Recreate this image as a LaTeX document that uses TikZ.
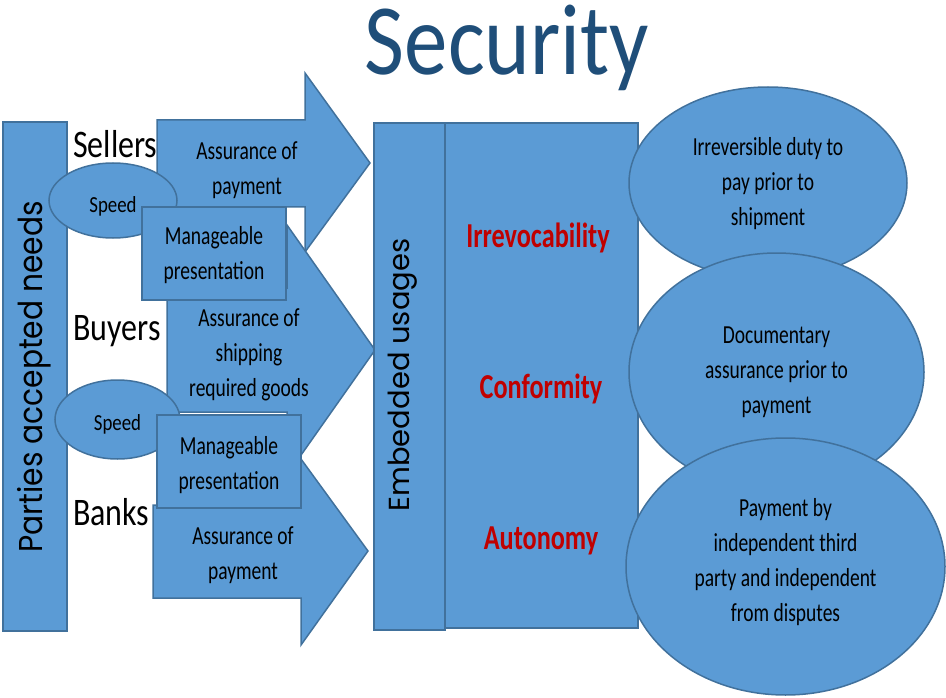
\documentclass[tikz,border=0pt]{standalone}
\usepackage{fontspec}
\setmainfont{Carlito}
\newfontfamily\nA{Carlito}[FakeStretch=0.75]
\newfontfamily\nB{Carlito}[FakeStretch=0.82]
\newfontfamily\nT{Carlito}[FakeStretch=0.86]
\newfontfamily\gth{Poppins}[FakeStretch=0.9]
\newfontfamily\gthw{Poppins}[FakeStretch=1.0]
\usetikzlibrary{shapes.geometric}
\definecolor{fillb}{HTML}{5B9BD5}
\definecolor{lineb}{HTML}{41719C}
\definecolor{titleb}{HTML}{1F4E79}
\definecolor{redt}{HTML}{C00000}
\tikzset{
  shp/.style={fill=fillb,draw=lineb,line width=1.5pt},
  ell/.style={shp,ellipse,inner sep=0pt},
  txt/.style={align=center,inner sep=0pt,font=\nA\fontsize{26}{35}\selectfont},
  lbl/.style={anchor=base west,inner sep=0pt,font=\nB\fontsize{39}{39}\selectfont},
  spd/.style={anchor=base,inner sep=0pt,font=\nB\fontsize{23}{23}\selectfont},
  red/.style={inner sep=0pt,text=redt,font=\nA\bfseries\fontsize{35}{35}\selectfont},
  vert/.style={rotate=90,inner sep=0pt}
}
\begin{document}
\begin{tikzpicture}[x=1pt,y=-1pt]
\useasboundingbox (0,0) rectangle (946,698);
% title
\node[anchor=base,inner sep=0pt,text=titleb,font=\nT\fontsize{101}{101}\selectfont] (title) at (507,75) {Security};
% left column
\node[shp,minimum width=64,minimum height=509,inner sep=0pt] (parties) at (35,376.5) {};
\node[vert,font=\gth\fontsize{33}{33}\selectfont] (partiest) at (34,377) {Parties accepted needs};
% arrows
\draw[shp] (157,120) -- (305,120) -- (305,73) -- (370,163) -- (305,252) -- (305,207) -- (157,207) -- cycle;
\draw[shp] (167,288) -- (287,288) -- (287,225) -- (375,350) -- (287,475) -- (287,412) -- (167,412) -- cycle;
\draw[shp] (153,505) -- (301,505) -- (301,459) -- (368,551) -- (301,645) -- (301,598) -- (153,598) -- cycle;
\node[txt] (a1) at (247,170) {Assurance of\\payment};
\node[txt] (a2) at (249,355) {Assurance of\\shipping\\required goods};
\node[txt] (a3) at (243,555) {Assurance of\\payment};
% speed ellipses
\node[ell,minimum width=128,minimum height=75] (s1) at (113,200.5) {};
\node[spd] (s1t) at (113,212) {Speed};
\node[ell,minimum width=125,minimum height=79] (s2) at (117.5,419.5) {};
\node[spd] (s2t) at (117.5,430) {Speed};
% manageable boxes
\node[shp,minimum width=144,minimum height=93,inner sep=0pt] (m1) at (214,253.5) {};
\node[txt] (m1t) at (214,255) {Manageable\\presentation};
\node[shp,minimum width=144,minimum height=93,inner sep=0pt] (m2) at (229,461.5) {};
\node[txt] (m2t) at (229,465) {Manageable\\presentation};
% party labels
\node[lbl] (sellers) at (73,158) {Sellers};
\node[lbl] (buyers) at (73,340) {Buyers};
\node[lbl] (banks) at (73,525) {Banks};
% embedded usages
\node[shp,minimum width=71,minimum height=507,inner sep=0pt] (emb) at (409.5,376.5) {};
\node[vert,font=\gthw\fontsize{29}{29}\selectfont] (embt) at (403,375) {Embedded usages};
\node[shp,minimum width=193,minimum height=505,inner sep=0pt] (use) at (541.5,375.5) {};
\node[red] (irr) at (538,238) {Irrevocability};
\node[red] (con) at (541,389) {Conformity};
\node[red] (aut) at (541,541) {Autonomy};
% right ellipses
\node[ell,minimum width=278,minimum height=192] (e1) at (768,183) {};
\node[txt] (e1t) at (768,184) {Irreversible duty to\\pay prior to\\shipment};
\node[ell,minimum width=295,minimum height=238] (e2) at (776.5,372) {};
\node[txt] (e2t) at (776.5,372) {Documentary\\assurance prior to\\payment};
\node[ell,minimum width=319,minimum height=257] (e3) at (785.5,566.5) {};
\node[txt] (e3t) at (785.5,562) {Payment by\\independent third\\party and independent\\from disputes};
\end{tikzpicture}
\end{document}
